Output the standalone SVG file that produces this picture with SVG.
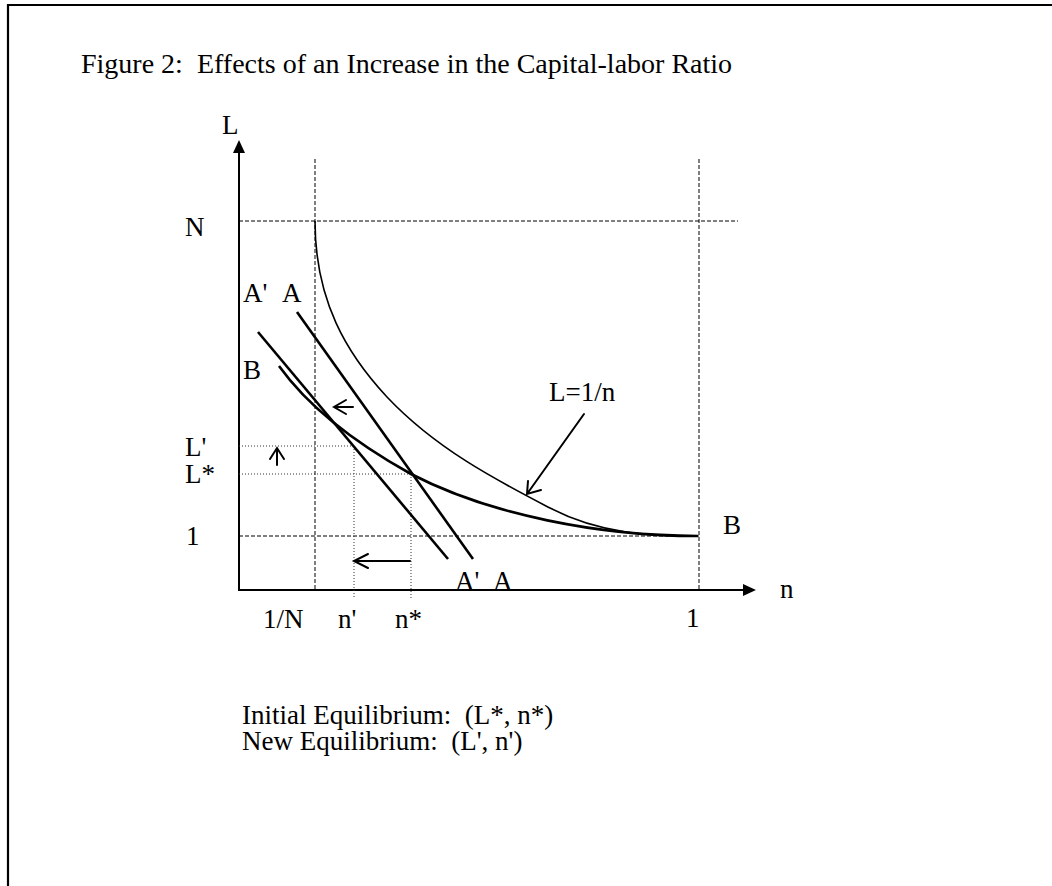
<svg xmlns="http://www.w3.org/2000/svg" width="1052" height="886" viewBox="0 0 1052 886">
<style>
text{font-family:"Liberation Serif","Times New Roman",serif;font-size:27px;fill:#000;white-space:pre}
.ttl{font-size:28px}
.frame{stroke:#000;stroke-width:2.2;fill:none}
.axis{stroke:#000;stroke-width:2;fill:none}
.dash{stroke:#000;stroke-width:1;stroke-dasharray:4 2;fill:none}
.dot{stroke:#333;stroke-width:1;stroke-dasharray:1 2;fill:none}
.thin{stroke:#000;stroke-width:1.6;fill:none}
.thick{stroke:#000;stroke-width:2.6;fill:none}
.line{stroke:#000;stroke-width:2.6;fill:none}
.arr{stroke:#000;stroke-width:2;fill:none;stroke-linecap:round}
</style>
<rect width="1052" height="886" fill="#fff"/>
<g id="frame">
<line class="frame" x1="7" y1="5" x2="1052" y2="5"/>
<line class="frame" x1="8" y1="4" x2="8" y2="886"/>
</g>
<g id="title"><text class="ttl" x="81" y="73" xml:space="preserve">Figure 2:  Effects of an Increase in the Capital-labor Ratio</text></g>
<g id="axes">
<line class="axis" x1="239" y1="590" x2="239" y2="152"/>
<polygon points="239,140 233,153 245,153" fill="#000"/>
<line class="axis" x1="238" y1="590" x2="744" y2="590"/>
<polygon points="756,590 743,584 743,596" fill="#000"/>
<text x="222" y="134">L</text>
<text x="780" y="598">n</text>
</g>
<g id="guides">
<line class="dash" x1="315" y1="159" x2="315" y2="590"/>
<line class="dash" x1="699" y1="159" x2="699" y2="590"/>
<line class="dash" x1="239" y1="221" x2="738" y2="221"/>
<line class="dash" x1="239" y1="536" x2="699" y2="536"/>
<line class="dot" x1="239" y1="446" x2="354" y2="446"/>
<line class="dot" x1="354" y1="446" x2="354" y2="598"/>
<line class="dot" x1="239" y1="474" x2="411" y2="474"/>
<line class="dot" x1="411" y1="474" x2="411" y2="598"/>
</g>
<g id="curve-hyperbola">
<path class="thin" d="M315,221 C315,301 347,354 387,397 C437,450 500,482 550,508 C600,534 650,536 698,536"/>
</g>
<g id="curve-B">
<path class="thick" d="M279,366 C312,412 366,449 411,474 C490,515 600,536 698,536"/>
</g>
<g id="line-A">
<line class="line" x1="297" y1="312" x2="473" y2="559"/>
</g>
<g id="line-A-prime">
<line class="line" x1="258" y1="332" x2="448" y2="559"/>
</g>
<g id="connectors">
<path class="arr" d="M353,407 L334,407 M346,400 L334,407 L346,414"/>
<path class="arr" d="M277,465 L277,448 M270,459 L277,448 L284,459"/>
<path class="arr" d="M410,561 L354,561 M368,554 L354,561 L368,568"/>
<path class="arr" d="M584,414 L527,494 M528,481 L527,494 L541,490"/>
</g>
<g id="labels">
<text x="185" y="236">N</text>
<text x="243" y="302">A'</text>
<text x="282" y="302">A</text>
<text x="243" y="379">B</text>
<text x="185" y="456">L'</text>
<text x="185" y="483">L*</text>
<text x="186" y="545">1</text>
<text x="549" y="401">L=1/n</text>
<text x="723" y="534">B</text>
<text x="455" y="590">A'</text>
<text x="493" y="590">A</text>
<text x="263" y="628">1/N</text>
<text x="338" y="628">n'</text>
<text x="395" y="628">n*</text>
<text x="686" y="627">1</text>
</g>
<g id="legend">
<text x="242" y="724" xml:space="preserve">Initial Equilibrium:  (L*, n*)</text>
<text x="242" y="750" xml:space="preserve">New Equilibrium:  (L', n')</text>
</g>
</svg>
